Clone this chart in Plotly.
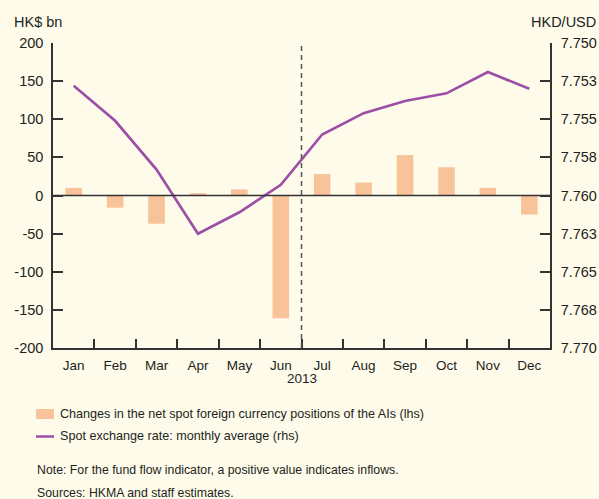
import plotly.graph_objects as go

months = ["Jan", "Feb", "Mar", "Apr", "May", "Jun", "Jul", "Aug", "Sep", "Oct", "Nov", "Dec"]
flows = [10, -16, -37, 3, 8, -161, 28, 17, 53, 37, 10, -25]
spot_rate = [7.7528, 7.7551, 7.7583, 7.7625, 7.7611, 7.7593, 7.7560, 7.7546, 7.7538, 7.7533, 7.7519, 7.7530]
left_tickvals = [-200, -150, -100, -50, 0, 50, 100, 150, 200]
left_ticktext = ["-200", "-150", "-100", "-50", "0", "50", "100", "150", "200"]
right_tickvals = [7.750, 7.7525, 7.755, 7.7575, 7.760, 7.7625, 7.765, 7.7675, 7.770]
right_ticktext = ["7.750", "7.753", "7.755", "7.758", "7.760", "7.763", "7.765", "7.768", "7.770"]
bar_name = "Changes in the net spot foreign currency positions of the AIs (lhs)"
line_name = "Spot exchange rate: monthly average (rhs)"

BG = "#fefbeb"
AX = "#333333"
TXT = "#231f20"
BAR_C = "#f9c39a"
LINE_C = "#9c4fa6"
FONT = "Liberation Sans, Arial, sans-serif"

# plot-area geometry in pixels (for paper-coordinate placement)
L, R, T, B = 53, 550, 43, 348
W, H = R - L, B - T


def px(x):
    return (x - L) / W


def py(y):
    return (B - y) / H


fig = go.Figure()
fig.add_trace(go.Bar(
    x=months, y=flows, width=0.4,
    marker=dict(color=BAR_C, line=dict(width=0)),
    name=bar_name, yaxis="y", showlegend=False,
))
fig.add_trace(go.Scatter(
    x=months, y=spot_rate, mode="lines",
    line=dict(color=LINE_C, width=2.7),
    name=line_name, yaxis="y2", showlegend=False,
))

fig.update_layout(
    width=599, height=499,
    margin=dict(l=L, r=599 - R, t=T, b=499 - B, autoexpand=False),
    paper_bgcolor=BG, plot_bgcolor=BG,
    font=dict(family=FONT, size=13, color=TXT),
    showlegend=False,
    xaxis=dict(
        type="category", tickson="boundaries", ticks="inside", ticklen=9,
        tickcolor=AX, tickwidth=1.5,
        showline=True, linecolor=AX, linewidth=1.5,
        showgrid=False, range=[-0.5, 11.5],
        tickfont=dict(size=13.5, color=TXT), ticklabelstandoff=4,
    ),
    yaxis=dict(
        range=[-200, 200], tickvals=left_tickvals, ticktext=left_ticktext,
        ticks="inside", ticklen=10, tickcolor=AX, tickwidth=1.5,
        showline=True, linecolor=AX, linewidth=1.5,
        showgrid=False, zeroline=False,
        tickfont=dict(size=14.5, color=TXT), ticklabelstandoff=5,
    ),
    yaxis2=dict(
        overlaying="y", side="right",
        range=[7.770, 7.750], tickvals=right_tickvals, ticktext=right_ticktext,
        ticks="inside", ticklen=10, tickcolor=AX, tickwidth=1.5,
        showline=True, linecolor=AX, linewidth=1.5,
        showgrid=False, zeroline=False,
        tickfont=dict(size=14.5, color=TXT), ticklabelstandoff=6,
    ),
)

# zero line and dashed divider
fig.add_shape(type="line", xref="paper", yref="y", x0=0, x1=1, y0=0, y1=0,
              line=dict(color=AX, width=1.5), layer="above")
fig.add_shape(type="line", xref="x", yref="paper", x0=5.5, x1=5.5, y0=0, y1=1,
              line=dict(color="#555555", width=1.5, dash="5px,4px"), layer="above")

# legend (drawn manually to match the reference placement)
fig.add_shape(type="rect", xref="paper", yref="paper",
              x0=px(36), x1=px(54), y0=py(419), y1=py(409),
              fillcolor=BAR_C, line=dict(width=0))
fig.add_shape(type="line", xref="paper", yref="paper",
              x0=px(36), x1=px(54), y0=py(436.5), y1=py(436.5),
              line=dict(color=LINE_C, width=2.5))

annotations = [
    dict(text="HK$ bn", x=px(12), y=py(22), xanchor="left", yanchor="middle", size=14.5),
    dict(text="HKD/USD", x=px(598), y=py(22), xanchor="right", yanchor="middle", size=14.5),
    dict(text="2013", x=5.5, xref="x", y=py(378.5), xanchor="center", yanchor="middle", size=13.5),
    dict(text=bar_name, x=px(58), y=py(414), xanchor="left", yanchor="middle", size=12.6),
    dict(text=line_name, x=px(58), y=py(436), xanchor="left", yanchor="middle", size=12.6),
    dict(text="Note: For the fund flow indicator, a positive value indicates inflows.",
         x=px(35), y=py(470), xanchor="left", yanchor="middle", size=12.3),
    dict(text="Sources: HKMA and staff estimates.",
         x=px(35), y=py(493), xanchor="left", yanchor="middle", size=12.3),
]
for a in annotations:
    size = a.pop("size")
    base = dict(xref="paper", yref="paper", showarrow=False,
                font=dict(family=FONT, size=size, color=TXT))
    base.update(a)
    fig.add_annotation(**base)

fig.write_html(
    "out.html",
    config={"displayModeBar": False},
    post_script="document.body.style.margin='0';document.body.style.padding='0';",
)
